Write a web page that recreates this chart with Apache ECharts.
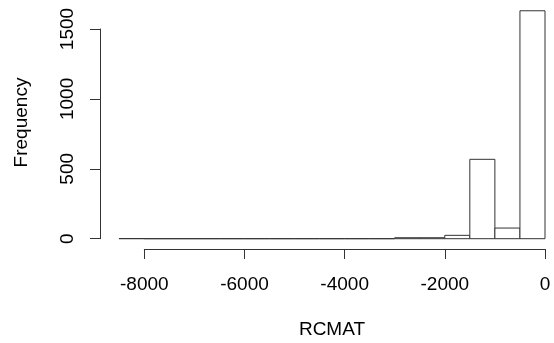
<!DOCTYPE html>
<html>
<head>
<meta charset="utf-8">
<script src="https://cdn.jsdelivr.net/npm/echarts@6/dist/echarts.min.js"></script>
<style>
  html, body { margin: 0; padding: 0; background: #fff; }
  #chart { width: 554px; height: 343px; }
</style>
</head>
<body>
<div id="chart"></div>
<script>
// Histogram of RCMAT, bins of width 500 from -8500 to 0
const binStarts = [-8500, -8000, -7500, -7000, -6500, -6000, -5500, -5000, -4500,
                   -4000, -3500, -3000, -2500, -2000, -1500, -1000, -500];
const binWidth = 500;
const counts = [1, 0, 0, 0, 0, 0, 0, 0, 0, 0, 0, 7, 7, 24, 567, 76, 1628];
const xTicks = [-8000, -6000, -4000, -2000, 0];
const yTicks = [0, 500, 1000, 1500];

const FONT = 'Liberation Sans, Arial, sans-serif';
const INK = '#000';
const LINE = '#333';

const histData = binStarts.map((s, i) => [s, s + binWidth, counts[i]]);
const plain = v => String(v);

const chart = echarts.init(document.getElementById('chart'), null, { renderer: 'canvas' });

const gridBase = { containLabel: false, outerBoundsMode: 'none' };

chart.setOption({
  animation: false,
  backgroundColor: '#fff',
  grid: [
    // plotting region for the bars
    Object.assign({ left: 119, right: 9, top: 0.7, bottom: 104.3 }, gridBase),
    // frequency axis
    Object.assign({ left: 100, width: 1, top: 29, bottom: 104.3 }, gridBase),
    // RCMAT axis, drawn below the bars
    Object.assign({ left: 144.3, right: 9, top: 240, bottom: 94 }, gridBase)
  ],
  xAxis: [
    { gridIndex: 0, type: 'value', min: -8500, max: 0, show: false, splitLine: { show: false } },
    { gridIndex: 1, type: 'value', show: false },
    { gridIndex: 2, type: 'value', min: xTicks[0], max: xTicks[xTicks.length - 1], interval: 2000,
      position: 'bottom',
      axisLine: { show: true, lineStyle: { color: LINE, width: 1 } },
      axisTick: { show: true, inside: false, length: 10, lineStyle: { color: LINE, width: 1 } },
      axisLabel: { show: true, margin: 26, fontFamily: FONT, fontSize: 19, color: INK, formatter: plain },
      splitLine: { show: false } }
  ],
  yAxis: [
    { gridIndex: 0, type: 'value', min: 0, max: 1700, show: false, splitLine: { show: false } },
    { gridIndex: 1, type: 'value', min: yTicks[0], max: yTicks[yTicks.length - 1], interval: 500,
      position: 'left',
      axisLine: { show: true, lineStyle: { color: LINE, width: 1 } },
      axisTick: { show: true, inside: false, length: 10, lineStyle: { color: LINE, width: 1 } },
      axisLabel: { show: true, rotate: 90, margin: 23, fontFamily: FONT, fontSize: 19, color: INK, formatter: plain },
      splitLine: { show: false } },
    { gridIndex: 2, type: 'value', show: false }
  ],
  graphic: [
    { type: 'text', x: 12, y: 122.5, rotation: Math.PI / 2,
      style: { text: 'Frequency', font: '19px ' + FONT, fill: INK,
               align: 'center', verticalAlign: 'top' } },
    { type: 'text', x: 332, y: 320, 
      style: { text: 'RCMAT', font: '19px ' + FONT, fill: INK,
               align: 'center', verticalAlign: 'top' } }
  ],
  series: [
    {
      type: 'custom',
      xAxisIndex: 0, yAxisIndex: 0,
      data: histData,
      renderItem: function (params, api) {
        const p0 = api.coord([api.value(0), 0]);
        const p1 = api.coord([api.value(1), api.value(2)]);
        return {
          type: 'rect',
          shape: { x: p0[0], y: p1[1], width: p1[0] - p0[0], height: p0[1] - p1[1] },
          style: { fill: '#fff', stroke: LINE, lineWidth: 1 }
        };
      }
    }
  ]
});
</script>
</body>
</html>
